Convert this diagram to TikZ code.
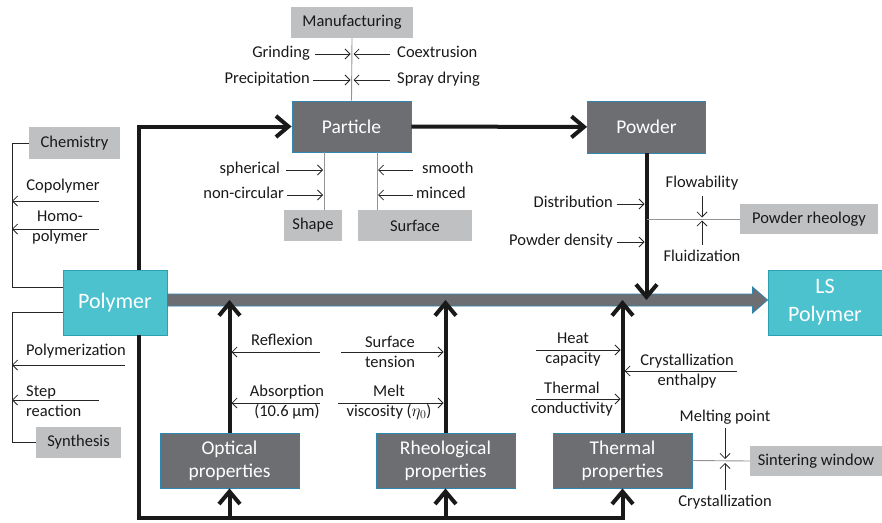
\documentclass[tikz,border=0pt]{standalone}
\usepackage{fontspec}
\setmainfont{Carlito}
\usetikzlibrary{arrows.meta, positioning, calc}

\definecolor{darkbox}{HTML}{6D6E71}
\definecolor{lightbox}{HTML}{BFC0C2}
\definecolor{tealbox}{HTML}{4BC2CE}
\definecolor{blueedge}{HTML}{2F86AE}
\definecolor{tealedge}{HTML}{2AA0B3}

\tikzset{
  mainbox/.style={draw=blueedge, fill=darkbox, text=white, line width=0.9pt, inner sep=0pt, align=center, font=\fontsize{19.5}{23}\selectfont},
  polybox/.style={draw=tealedge, fill=tealbox, text=white, line width=0.9pt, inner sep=0pt, align=center, font=\fontsize{22}{28}\selectfont},
  catbox/.style={fill=lightbox, text=black!90, inner sep=0pt, minimum height=31pt, font=\fontsize{16.5}{20}\selectfont},
  lbl/.style={text=black!90, inner sep=0pt, align=center, font=\fontsize{16.5}{20}\selectfont},
  side/.style={lbl, text height=11pt, text depth=4pt},
  tarr/.style={-{Straight Barb[length=5pt, width=10pt]}, line width=0.8pt, black!85},
  fat/.style={-{Straight Barb[length=12.5pt, width=21pt]}, line width=4pt, black!90},
  feed/.style={line width=0.9pt, gray!85},
  bracket/.style={line width=0.8pt, black!85},
}

\begin{document}
\begin{tikzpicture}[x=1pt, y=-1pt]
    \useasboundingbox (0,0) rectangle (882,522);

    % Main boxes
    \node[mainbox, minimum width=119pt, minimum height=51pt] (part) at (351.5,126.5) {Particle};
    \node[mainbox, minimum width=118pt, minimum height=52pt] (powder) at (646.5,127) {Powder};
    \node[polybox, minimum width=104pt, minimum height=65pt] (poly) at (115,302.5) {Polymer};
    \node[polybox, minimum width=114pt, minimum height=65pt] (ls) at (825,302.5) {LS\\Polymer};
    \node[mainbox, minimum width=139pt, minimum height=55pt] (opt) at (229.5,460.5) {Optical\\properties};
    \node[mainbox, minimum width=139pt, minimum height=55pt] (rheo) at (445.5,460.5) {Rheological\\properties};
    \node[mainbox, minimum width=139pt, minimum height=55pt] (therm) at (622.5,460.5) {Thermal\\properties};

    % Category boxes
    \node[catbox, minimum width=122pt] (manu) at (352,22.5) {Manufacturing};
    \node[catbox, minimum width=58pt] (shape) at (313,225.5) {Shape};
    \node[catbox, minimum width=114pt] (surf) at (415,225.5) {Surface};
    \node[catbox, minimum width=91pt, minimum height=32pt] (chem) at (74.5,143) {Chemistry};
    \node[catbox, minimum width=85pt] (synth) at (78.5,442.5) {Synthesis};
    \node[catbox, minimum width=138pt, minimum height=30pt] (prheo) at (809,219) {Powder rheology};
    \node[catbox, minimum width=132pt, minimum height=30pt] (sint) at (816,461) {Sintering window};

    % Helper coordinates
    \coordinate (lc) at (12,0);
    \coordinate (shx) at (324,0);
    \coordinate (sux) at (377,0);
    \coordinate (shaft) at (0,300);
    \coordinate (bot) at (0,518);

    % Main flow
    \filldraw[fill=darkbox, draw=blueedge, line width=0.8pt]
        ($(poly.east |- shaft)+(0,-6)$) -- ($(ls.west |- shaft)+(-15,-6)$)
        -- ($(ls.west |- shaft)+(-15,-13)$) -- (ls.west |- shaft)
        -- ($(ls.west |- shaft)+(-15,13)$) -- ($(ls.west |- shaft)+(-15,6)$)
        -- ($(poly.east |- shaft)+(0,6)$) -- cycle;
    \draw[fat] ([xshift=24pt]poly.north) |- (part.west);
    \draw[fat] (part) -- (powder);
    \draw[fat] (powder.south) -- (powder.south |- shaft);
    \draw[fat] (opt.north) -- (opt.north |- shaft);
    \draw[fat] (rheo.north) -- (rheo.north |- shaft);
    \draw[fat] (therm.north) -- (therm.north |- shaft);
    \draw[fat] ([xshift=24pt]poly.south) |- (therm.south |- bot) -- (therm.south);
    \draw[fat] (opt.south |- bot) -- (opt.south);
    \draw[fat] (rheo.south |- bot) -- (rheo.south);

    % Manufacturing
    \draw[feed] (manu.south) -- (part.north);
    \node[side, anchor=east] (grind) at (310,54) {Grinding};
    \node[side, anchor=east] (precip) at (310,80) {Precipitation};
    \node[side, anchor=west] (coex) at (397,54) {Coextrusion};
    \node[side, anchor=west] (spray) at (397,80) {Spray drying};
    \draw[tarr, shorten >=1.5pt] ([xshift=5pt]grind.east) -- (grind -| manu.south);
    \draw[tarr, shorten >=1.5pt] ([xshift=3pt]precip.east) -- (precip -| manu.south);
    \draw[tarr, shorten >=1.5pt] ([xshift=-7pt]coex.west) -- (coex -| manu.south);
    \draw[tarr, shorten >=1.5pt] ([xshift=-7pt]spray.west) -- (spray -| manu.south);

    % Shape and surface
    \draw[feed] (part.south -| shx) -- (shape.north -| shx);
    \draw[feed] (part.south -| sux) -- (surf.north -| sux);
    \node[side, anchor=east] (sph) at (280,170) {spherical};
    \node[side, anchor=east] (ncirc) at (284,195) {non-circular};
    \node[side, anchor=west] (smooth) at (422,170) {smooth};
    \node[side, anchor=west] (minced) at (416,195) {minced};
    \draw[tarr, shorten >=1pt] ([xshift=6pt]sph.east) -- (sph -| shx);
    \draw[tarr, shorten >=1pt] ([xshift=3pt]ncirc.east) -- (ncirc -| shx);
    \draw[tarr, shorten >=1pt] ([xshift=-9pt]smooth.west) -- (smooth -| sux);
    \draw[tarr, shorten >=1pt] ([xshift=-3pt]minced.west) -- (minced -| sux);

    % Powder
    \draw[feed] (powder.south |- prheo.west) -- (prheo.west);
    \node[side, anchor=east] (dist) at (613,204) {Distribution};
    \node[side, anchor=east] (pdens) at (613,242) {Powder density};
    \draw[tarr, shorten >=2pt] ([xshift=4pt]dist.east) -- (dist -| powder.south);
    \draw[tarr, shorten >=2pt] ([xshift=4pt]pdens.east) -- (pdens -| powder.south);
    \node[lbl] (flow) at (702,183) {Flowability};
    \node[lbl] (fluid) at (702,256) {Fluidization};
    \coordinate (flow-a) at (702,196);
    \coordinate (fluid-a) at (702,245);
    \draw[tarr, shorten >=1.5pt] (flow-a) -- (flow-a |- prheo.west);
    \draw[tarr, shorten >=1.5pt] (fluid-a) -- (fluid-a |- prheo.west);

    % Chemistry and synthesis
    \draw[bracket] (chem.west) -| ([yshift=15pt]poly.west -| lc) -- ([yshift=15pt]poly.west);
    \draw[bracket] ([yshift=-10pt]poly.west) -| (synth.west -| lc) -- (synth.west);
    \node[lbl] (copo) at (63,186) {Copolymer};
    \node[lbl] (homo) at (60,228) {Homo-\\polymer};
    \node[lbl, anchor=west] (polyz) at (26,351) {Polymerization};
    \node[lbl, anchor=west, align=left] (step) at (26,401) {Step\\reaction};
    \coordinate (copo-a) at (99,201);
    \coordinate (homo-a) at (99,229);
    \coordinate (polyz-a) at (125,365);
    \coordinate (step-a) at (99,400);
    \draw[tarr] (copo-a) -- (copo-a -| lc);
    \draw[tarr] (homo-a) -- (homo-a -| lc);
    \draw[tarr] (polyz-a) -- (polyz-a -| lc);
    \draw[tarr] (step-a) -- (step-a -| lc);

    % Optical and rheological
    \node[lbl] (refl) at (282,340) {Reflexion};
    \node[lbl] (abs) at (287,402) {Absorption\\(10.6 µm)};
    \node[lbl] (surft) at (390,352) {Surface\\tension};
    \node[lbl] (meltv) at (389,402) {Melt\\viscosity ($\eta_0$)};
    \coordinate (refl-a) at (320,352);
    \coordinate (abs-a) at (320,403);
    \coordinate (surft-a) at (341,352);
    \coordinate (meltv-a) at (338,403);
    \draw[tarr, shorten >=2pt] (refl-a) -- (refl-a -| opt.north);
    \draw[tarr, shorten >=2pt] (abs-a) -- (abs-a -| opt.north);
    \draw[tarr, shorten >=2pt] (surft-a) -- (surft-a -| rheo.north);
    \draw[tarr, shorten >=2pt] (meltv-a) -- (meltv-a -| rheo.north);

    % Thermal
    \node[lbl] (heat) at (573,350) {Heat\\capacity};
    \node[lbl] (tcond) at (572,399) {Thermal\\conductivity};
    \node[lbl] (cryst) at (687,371) {Crystallization\\enthalpy};
    \coordinate (heat-a) at (536,350);
    \coordinate (tcond-a) at (536,399);
    \coordinate (cryst-a) at (737,371);
    \draw[tarr, shorten >=2pt] (heat-a) -- (heat-a -| therm.north);
    \draw[tarr, shorten >=2pt] (tcond-a) -- (tcond-a -| therm.north);
    \draw[tarr, shorten >=2pt] (cryst-a) -- (cryst-a -| therm.north);

    % Sintering window
    \draw[feed] (therm.east) -- (sint.west);
    \node[lbl] (mpt) at (725,417) {Melting point};
    \node[lbl] (crys) at (725,502) {Crystallization};
    \coordinate (mpt-a) at (725,428);
    \coordinate (crys-a) at (725,490);
    \draw[tarr, shorten >=2pt] (mpt-a) -- (mpt-a |- sint.west);
    \draw[tarr, shorten >=2pt] (crys-a) -- (crys-a |- sint.west);
\end{tikzpicture}
\end{document}
